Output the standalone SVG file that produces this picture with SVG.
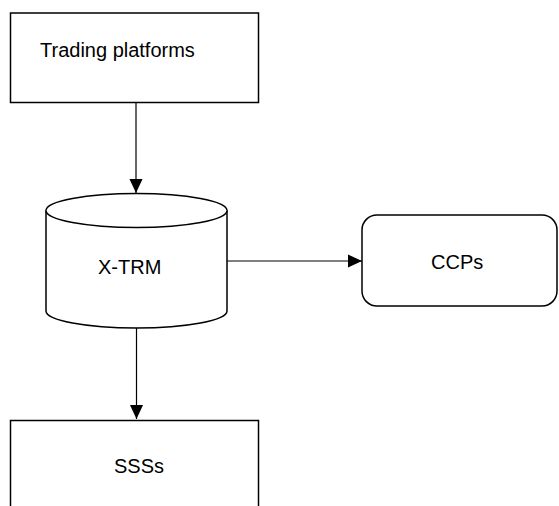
<svg xmlns="http://www.w3.org/2000/svg" width="559" height="506" viewBox="0 0 559 506">
<style>
.shape{fill:#fff;stroke:#000;stroke-width:1.5}
.lbl{font-family:"Liberation Sans",Arial,sans-serif;font-size:20px;fill:#000}
.edge{stroke:#000;stroke-width:1.2;fill:none}
</style>
<defs>
<marker id="arr" markerWidth="14" markerHeight="15" refX="15" refY="7" markerUnits="userSpaceOnUse" orient="auto" viewBox="0 0 15 14">
<path d="M0,0 L15,7 L0,14 Z" fill="#000"/>
</marker>
</defs>
<rect width="559" height="506" fill="#fff"/>
<g id="connectors">
<line class="edge" x1="136" y1="102.5" x2="136" y2="193" marker-end="url(#arr)"/>
<line class="edge" x1="136.5" y1="328" x2="136.5" y2="419" marker-end="url(#arr)"/>
<line class="edge" x1="227" y1="261" x2="362" y2="261" marker-end="url(#arr)"/>
</g>
<g id="trading">
<rect class="shape" x="10.5" y="13" width="248" height="89.5"/>
<text class="lbl" x="40" y="57">Trading platforms</text>
</g>
<g id="xtrm">
<path class="shape" d="M46,210.5 L46,311 A90.5,17 0 0 0 227,311 L227,210.5 A90.5,17 0 0 0 46,210.5 Z"/>
<path class="shape" d="M46,210.5 A90.5,17 0 0 0 227,210.5" fill="none"/>
<text class="lbl" x="98" y="274">X-TRM</text>
</g>
<g id="ccps">
<rect class="shape" x="362" y="215" width="195" height="91" rx="15" ry="15"/>
<text class="lbl" x="431" y="269">CCPs</text>
</g>
<g id="ssss">
<rect class="shape" x="10.5" y="420.5" width="248" height="100"/>
<text class="lbl" x="114" y="473">SSSs</text>
</g>
</svg>
